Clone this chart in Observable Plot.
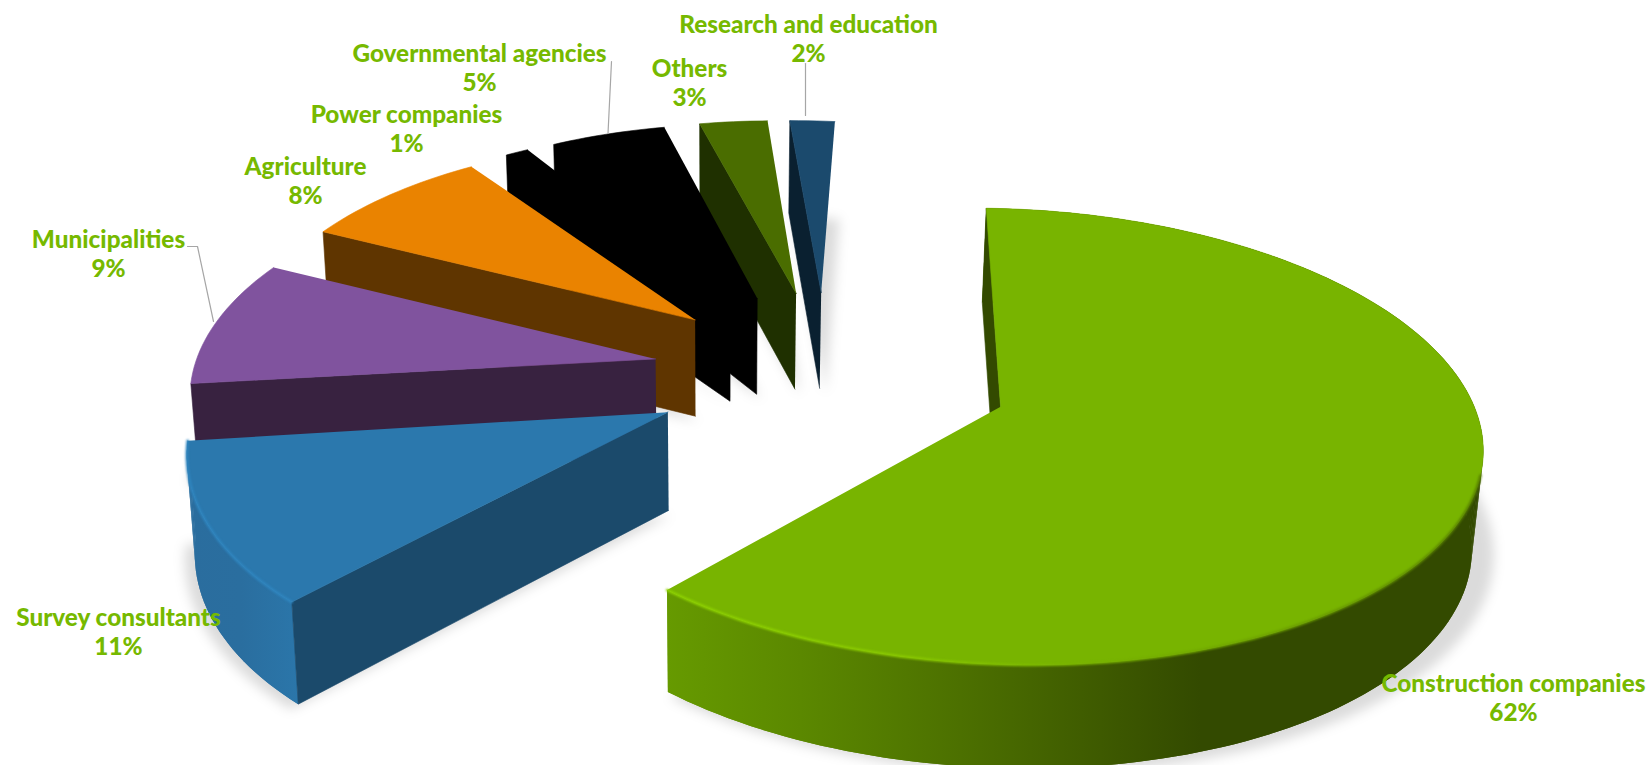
<!DOCTYPE html>
<html><head><meta charset="utf-8">
<script src="https://cdn.jsdelivr.net/npm/d3@7"></script>
<script src="https://cdn.jsdelivr.net/npm/@observablehq/plot@0.6"></script>
<style>html,body{margin:0;background:#fff}</style></head>
<body><div id="c"></div>
<script>
// Market shares by customer group, shown as an exploded perspective pie.
const names=["Construction companies","Survey consultants","Municipalities","Agriculture","Power companies","Governmental agencies","Others","Research and education"];
const shares=[62,11,9,8,1,5,3,2];
const topColors=["#78b400","#2b78ad","#80539e","#ea8300","#000000","#000000","#4a6d00","#1b4a6d"];
const wallColors=["#334a00","#1b4a6b","#382240","#5f3500","#000000","#000000","#1f3000","#0a2030"];
const labelX=[1513,118,108,305,406,479,689,808];
const labelY=[697,631,253,180,128,67,82,38];

// Perspective of the pie plane: a homography for the small wedges, one for the large wedge.
const explode=0.395;
const planeSmall=[456.54477,131.18103,824.79329,24.30980,-163.27577,372.85954,0.03049,0.13984];
const planeLarge=[477.64326,114.15030,1000.05648,6.92964,-171.53709,406.31491,0.00097,0.13031];
const project=(h,u,v)=>{const w=h[6]*u+h[7]*v+1;return [(h[0]*u+h[1]*v+h[2])/w,(h[3]*u+h[4]*v+h[5])/w]};
// Where a point on the top face lands on the bottom face of the extruded pie.
const drop=([x,y])=>[x+(720-x)*0.015,y+90+0.02*y];

// Wedge angles come directly from the shares.
const total=d3.sum(shares);
const ends=d3.cumsum(shares).map(c=>c/total*2*Math.PI);
const slices=shares.map((s,i)=>{
  const t0=i?ends[i-1]:0,t1=ends[i],mid=(t0+t1)/2;
  const cu=i?explode*Math.sin(mid):0,cv=i?explode*Math.cos(mid):0,plane=i?planeSmall:planeLarge;
  const n=Math.ceil((t1-t0)*40);
  const arc=d3.range(n+1).map(k=>{const t=t0+(t1-t0)*k/n;return project(plane,cu+Math.sin(t),cv+Math.cos(t))});
  return {i,apex:project(plane,cu,cv),arc};
});

const gradient=(id,stops)=>`<linearGradient id="${id}" gradientUnits="userSpaceOnUse" x1="0" x2="1652" y1="0" y2="0">${stops.map(([x,c])=>`<stop offset="${x/1652}" stop-color="${c}"/>`).join("")}</linearGradient>`;
const defs=()=>{const g=d3.create("svg:g");g.html(
  gradient("wall0",[[666,"#669a00"],[800,"#5b8800"],[960,"#4c7000"],[1100,"#3e5a00"],[1200,"#334a00"],[1490,"#334a00"]])+
  gradient("wall1",[[184,"#2a6d9e"],[240,"#2a6e9f"],[305,"#2b77ab"]])+
  gradient("rim0",[[666,"#8fd400"],[900,"#8ccc00"],[1040,"#7cb800"],[1300,"#6a9c00"],[1490,"#557c00"]]));return g.node()};
const poly=(points,fill)=>Plot.line(points,{x:"0",y:"1",fill,stroke:fill,strokeWidth:0.6});
const marks=[defs];

// soft floor shadow under the exploded wedges
for(const s of slices){
  const floor=[s.apex,...s.arc].map(drop).map(([x,y])=>[754+(x-750)*1.025,y+5]);
  marks.push(Plot.line(floor,{x:"0",y:"1",fill:"#000",fillOpacity:0.14,stroke:"none",imageFilter:"blur(6px)"}));
}

// wedges are painted from the back of the pie to the front
for(const s of [7,6,5,4,3,2,1,0].map(i=>slices[i])){
  const wall=wallColors[s.i],first=s.arc[0];
  if(topColors[s.i]===wall){marks.push(poly([s.apex,drop(s.apex),drop(first),...s.arc],wall));continue;}
  if(s.i<2){
    // outer rim: one band, then quads over it so the silhouette stays straight at the tangent
    const side=s.i?"url(#wall1)":"url(#wall0)";
    marks.push(Plot.line([...s.arc,...s.arc.map(drop).reverse()],{x:"0",y:"1",fill:side,stroke:"none"}));
    const strip=s.arc.flatMap((p,k)=>k?[{p:s.arc[k-1],k},{p,k},{p:drop(p),k},{p:drop(s.arc[k-1]),k}]:[]);
    marks.push(Plot.line(strip,{x:d=>d.p[0],y:d=>d.p[1],z:"k",fill:side,stroke:"none"}));
  }
  marks.push(poly([s.apex,first,drop(first),drop(s.apex)],wall));
  marks.push(poly([s.apex,...s.arc],topColors[s.i]));
  if(s.i===0)marks.push(Plot.line(s.arc.filter((p,k)=>k>s.arc.length*0.47),{x:"0",y:"1",stroke:"url(#rim0)",strokeWidth:2.5,imageFilter:"blur(1px)"}));
  if(s.i===1)marks.push(Plot.line(s.arc,{x:"0",y:"1",stroke:"#2f86c0",strokeWidth:2.5,imageFilter:"blur(1px)"}));
}

// leader lines and data labels
const leaderGov=[[611,61],[607.5,133]],leaderMuni=[[187,246],[197,246],[213,321]],leaderRes=[[805,63],[805,115]];
for(const l of [leaderGov,leaderMuni,leaderRes])marks.push(Plot.line(l,{x:"0",y:"1",stroke:"#a6a6a6",strokeWidth:1.2}));
marks.push(Plot.text(names,{x:(d,i)=>labelX[i],y:(d,i)=>labelY[i],text:(d,i)=>`${d}\n${shares[i]}%`,fill:"#76b900",fontFamily:"Lato",fontWeight:900,fontSize:24.3,lineHeight:1.18,textAnchor:"middle",lineAnchor:"middle"}));

document.getElementById("c").append(Plot.plot({width:1652,height:765,margin:0,style:{background:"#fff"},x:{domain:[0,1652],range:[0,1652],axis:null},y:{domain:[0,765],range:[0,765],axis:null},marks}));
</script></body></html>
